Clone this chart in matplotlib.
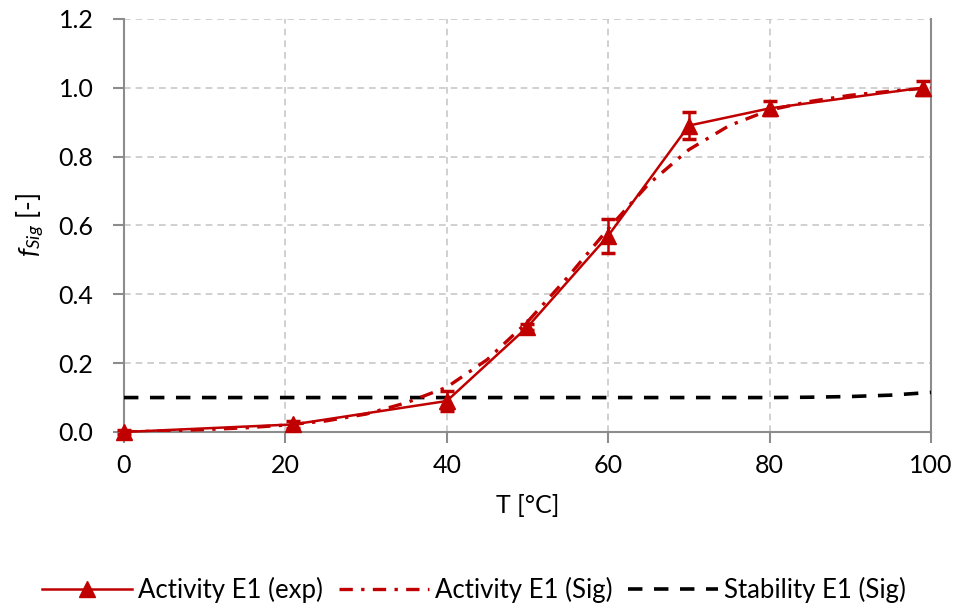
import matplotlib
matplotlib.use("Agg")
import matplotlib.pyplot as plt
from matplotlib.lines import Line2D

plt.rcParams['font.family'] = ['Lato', 'DejaVu Sans']
plt.rcParams['mathtext.fontset'] = 'custom'
plt.rcParams['mathtext.it'] = 'Lato:italic'
plt.rcParams['mathtext.rm'] = 'Lato'

# experimental activity
T_exp = [0, 21, 40, 50, 60, 70, 80, 99]
f_exp = [0.0, 0.022, 0.09, 0.305, 0.57, 0.89, 0.94, 1.0]
err_exp = [0.005, 0.01, 0.03, 0.01, 0.05, 0.04, 0.02, 0.02]

# sigmoid fit of activity
T_sig = [0, 5, 10, 15, 20, 25, 30, 35, 40, 45, 50, 55, 60, 65, 70, 75, 80, 85, 90, 95, 100]
f_sig = [0.0, 0.003, 0.007, 0.012, 0.02, 0.032, 0.052, 0.085, 0.13, 0.21, 0.32, 0.45, 0.59, 0.72, 0.82, 0.89, 0.935, 0.96, 0.978, 0.99, 1.0]

# sigmoid stability
T_stab = [0, 10, 20, 30, 40, 50, 60, 70, 80, 85, 90, 95, 100]
f_stab = [0.1, 0.1, 0.1, 0.1, 0.1, 0.1, 0.1, 0.1, 0.1, 0.101, 0.103, 0.107, 0.115]

red = '#C00000'
gray = '#8c8c8c'
sig_dash = (4, 2.5, 1, 2.5)
stab_dash = (4, 3.2)

fig = plt.figure(figsize=(9.58, 6.08), dpi=100)
ax = fig.add_axes([0.1294, 0.2895, 0.8424, 0.6795])

ax.plot(T_stab, f_stab, color='black', lw=2.6, dashes=stab_dash, label='Stability E1 (Sig)', zorder=3)
ax.plot(T_sig, f_sig, color=red, lw=2.4, dashes=sig_dash, label='Activity E1 (Sig)', zorder=4)
eb = ax.errorbar(T_exp, f_exp, yerr=err_exp, color=red, lw=1.8, marker='^', ms=11,
                 elinewidth=1.8, capsize=5, capthick=2.5, label='Activity E1 (exp)', zorder=5)
for art in eb.lines[0:1]:
    art.set_clip_on(False)
for art in eb.lines[1]:
    art.set_clip_on(False)
for art in eb.lines[2]:
    art.set_clip_on(False)

ax.set_xlim(0, 100)
ax.set_ylim(0, 1.2)
ax.set_xticks([0, 20, 40, 60, 80, 100])
ax.set_yticks([0.0, 0.2, 0.4, 0.6, 0.8, 1.0, 1.2])
ax.set_yticklabels(['0.0', '0.2', '0.4', '0.6', '0.8', '1.0', '1.2'])
ax.grid(True, color='#c8c8c8', lw=1.2, dashes=(4, 3))
ax.set_axisbelow(True)
for s in ['left', 'bottom', 'right']:
    ax.spines[s].set_color(gray)
    ax.spines[s].set_linewidth(1.5)
ax.spines['top'].set_visible(False)
ax.tick_params(direction='out', length=8, width=1.5, color=gray, labelsize=18)
ax.tick_params(axis='y', pad=14)
ax.tick_params(axis='x', pad=8)
ax.set_xlabel('T [°C]', fontsize=18, labelpad=12)
ax.set_ylabel(r'$f_{Sig}$ [-]', fontsize=19, labelpad=8)

h_exp = Line2D([], [], color=red, lw=1.8, marker='^', ms=11)
h_sig = Line2D([], [], color=red, lw=2.4, dashes=sig_dash)
h_stab = Line2D([], [], color='black', lw=2.6, dashes=stab_dash)
fig.legend([h_exp, h_sig, h_stab], ['Activity E1 (exp)', 'Activity E1 (Sig)', 'Stability E1 (Sig)'],
           loc='center', bbox_to_anchor=(0.495, 0.03), ncol=3, frameon=False, fontsize=18.5,
           handlelength=3.5, handletextpad=0.25, columnspacing=0.6)

fig.savefig('out.png', dpi=100)
